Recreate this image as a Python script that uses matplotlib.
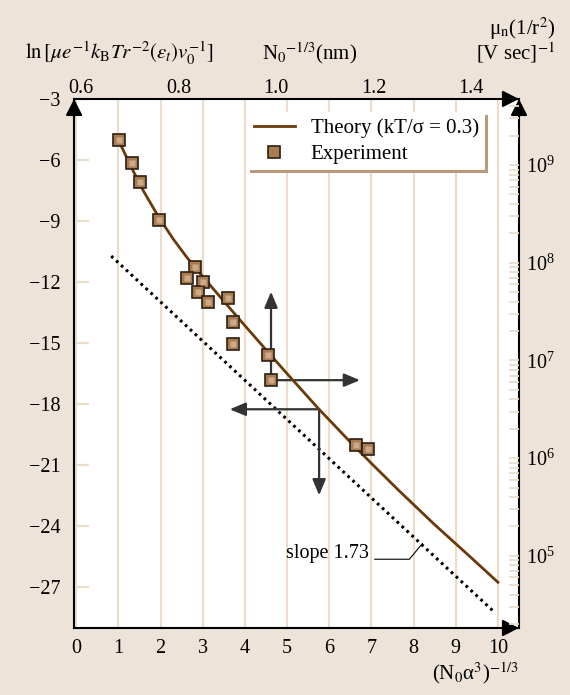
import matplotlib
matplotlib.use('Agg')

import matplotlib.pyplot as plt
from matplotlib.ticker import LogLocator, LogFormatterSciNotation, NullFormatter

plt.rcParams['font.family'] = ['Liberation Serif', 'DejaVu Serif']
plt.rcParams['mathtext.fontset'] = 'stix'

# --- data ---
exp_x = [1.02, 1.33, 1.52, 1.96, 2.81, 2.62, 3.00, 2.89, 3.12, 3.61, 3.73, 3.73, 4.54, 4.62, 6.64, 6.91]
exp_y = [-5.02, -6.13, -7.10, -8.97, -11.27, -11.81, -11.99, -12.49, -12.97, -12.79, -13.98, -15.05,
         -15.59, -16.82, -19.99, -20.22]

theory_x = [1.02, 1.3, 1.6, 1.96, 2.3, 2.6, 2.81, 3.2, 3.6, 4.0, 4.54, 5.0, 5.75, 6.5, 7.0, 7.69,
            8.5, 9.3, 10.0]
theory_y = [-5.10, -6.33, -7.54, -8.82, -9.88, -10.72, -11.26, -12.21, -13.18, -14.14, -15.42,
            -16.5, -18.23, -19.86, -20.91, -22.32, -23.92, -25.42, -26.75]

slope_x = [0.83, 9.87]
slope_y = [-10.72, -28.13]

x_ticks = list(range(0, 11))
y_ticks = [-3, -6, -9, -12, -15, -18, -21, -24, -27]
top_ticks = [0.6, 0.8, 1.0, 1.2, 1.4]

# right axis: mu = 1e9 at y=-6.25, 4.8 y-units per decade
MU_Y9 = -6.25
Y_PER_DECADE = 4.8

# top axis: N0^-1/3 (nm) as a linear function of bottom x
NM0, NM_PER_X = 0.59, 0.0865

BG = '#EDE3D8'
BEIGE = '#EADDCB'
BROWN = '#6B3A0A'
ARROW = '#333333'
FS = 14.5

fig = plt.figure(figsize=(5.7, 6.95), dpi=100)
fig.patch.set_facecolor(BG)
ax = fig.add_axes([0.130, 0.0964, 0.7805, 0.7612])
ax.set_facecolor('white')
ax.set_xlim(-0.05, 10.5)
ax.set_ylim(-29, -3)

# grid and ticks
ax.set_xticks(x_ticks)
ax.set_yticks(y_ticks)
ax.grid(axis='x', color=BEIGE, lw=1.5)
ax.set_axisbelow(True)
ax.tick_params(axis='x', length=0, pad=8, labelsize=FS)
ax.tick_params(axis='y', direction='in', length=11, width=1.6, color=BEIGE, pad=10, labelsize=FS)
for s in ax.spines.values():
    s.set_linewidth(1.5)
    s.set_color('black')

# top axis
top = ax.secondary_xaxis('top', functions=(lambda x: NM0 + NM_PER_X * x,
                                           lambda v: (v - NM0) / NM_PER_X))
top.set_xticks(top_ticks)
top.set_xticklabels([f'{v:.1f}' for v in top_ticks])
top.tick_params(length=0, pad=1, labelsize=FS)
top.spines['top'].set_visible(False)

# right log axis
ax2 = ax.twinx()
ax2.set_yscale('log')
lo, hi = ax.get_ylim()
ax2.set_ylim(10 ** (9 + (lo - MU_Y9) / Y_PER_DECADE), 10 ** (9 + (hi - MU_Y9) / Y_PER_DECADE))
ax2.yaxis.set_major_locator(LogLocator(base=10))
ax2.yaxis.set_major_formatter(LogFormatterSciNotation())
ax2.yaxis.set_minor_locator(LogLocator(base=10, subs=range(2, 10)))
ax2.yaxis.set_minor_formatter(NullFormatter())
ax2.tick_params(which='both', direction='in', length=7, width=1.3, color=BEIGE, pad=5, labelsize=FS)
for s in ax2.spines.values():
    s.set_visible(False)

# dotted reference line and theory curve
ax.plot(slope_x, slope_y, color='black', lw=2.2, ls=(0, (0.9, 1.3)), zorder=3)
ax.plot(theory_x, theory_y, color=BROWN, lw=2.0, zorder=4, label='Theory (kT/σ = 0.3)')

# direction arrows
arrow_kw = dict(arrowstyle='-|>,head_length=0.6,head_width=0.25', color=ARROW, lw=1.6,
                mutation_scale=16, shrinkA=0, shrinkB=0)
ax.annotate('', xy=(4.62, -12.47), xytext=(4.62, -16.6), arrowprops=arrow_kw, zorder=3)
ax.annotate('', xy=(6.73, -16.82), xytext=(4.75, -16.82), arrowprops=arrow_kw, zorder=3)
ax.annotate('', xy=(3.64, -18.25), xytext=(5.76, -18.25), arrowprops=arrow_kw, zorder=3)
ax.annotate('', xy=(5.76, -22.48), xytext=(5.76, -18.25), arrowprops=arrow_kw, zorder=3)

# experiment points
ax.plot(exp_x, exp_y, ls='none', marker='s', ms=8.5, mfc='#A87B50', mec='#2E1F12', mew=1.2,
        zorder=5, label='Experiment')
ax.plot(exp_x, exp_y, ls='none', marker='s', ms=3.8, mfc='#CDAA8A', mec='none', zorder=6)

# slope annotation
ax.text(6.95, -25.35, 'slope 1.73', ha='right', va='center', fontsize=FS)
ax.plot([7.08, 7.9, 8.21], [-25.62, -25.62, -24.85], color='black', lw=0.8, zorder=3)

# legend
leg = ax.legend(loc='upper right', bbox_to_anchor=(0.924, 0.975), borderaxespad=0, fontsize=15,
                frameon=True, fancybox=False, handlelength=2.0, handletextpad=0.75,
                labelspacing=0.3, borderpad=0.3,
                shadow={'color': '#B89A78', 'alpha': 1.0})
leg.get_frame().set_edgecolor('white')
leg.get_frame().set_linewidth(0)

# axis arrowheads at the corners
head_kw = dict(arrowstyle='-|>,head_length=0.55,head_width=0.28', color='black', lw=1.5,
               mutation_scale=18, shrinkA=0, shrinkB=0)
for xy, xyt in [((0, 1), (0, 0.97)), ((1, 1), (1, 0.97)),
                ((1, 1), (0.97, 1)), ((1, 0), (0.97, 0))]:
    ax.annotate('', xy=xy, xytext=xyt, xycoords='axes fraction', textcoords='axes fraction',
                arrowprops=head_kw, annotation_clip=False, zorder=7)

# axis titles
fig.text(25 / 570, 1 - 53 / 695, r'$\mathrm{ln}\,[\mu e^{-1}k_{\mathrm{B}}Tr^{-2}(\varepsilon_t)v_0^{-1}]$',
         ha='left', va='center', fontsize=15)
fig.text(262 / 570, 1 - 53 / 695, r'N$_0$$^{-1/3}$(nm)', ha='left', va='center', fontsize=15)
fig.text(555 / 570, 1 - 29 / 695, r'μ$_\mathrm{n}$(1/r$^2$)', ha='right', va='center', fontsize=15)
fig.text(555 / 570, 1 - 53 / 695, r'[V sec]$^{-1}$', ha='right', va='center', fontsize=15)
fig.text(519 / 570, 1 - 673 / 695, r'(N$_0$α$^3$)$^{-1/3}$', ha='right', va='center', fontsize=15)

fig.savefig('out.png', dpi=100, facecolor=fig.get_facecolor())
